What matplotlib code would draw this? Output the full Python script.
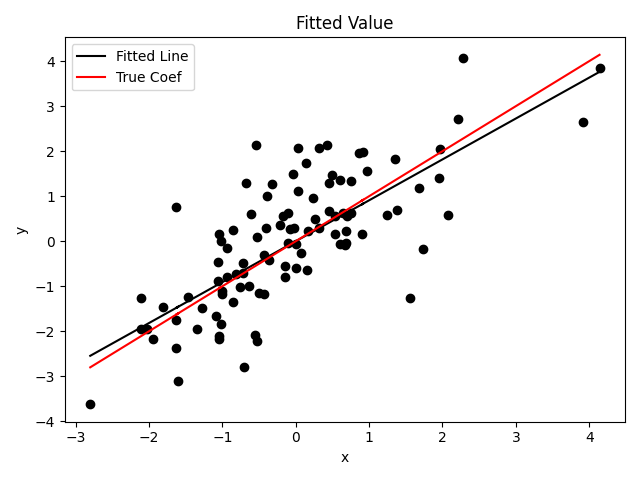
import numpy as np
import matplotlib
matplotlib.use('Agg')
import matplotlib.pyplot as plt

x = [-2.80, -2.11, -2.11, -2.02, -1.95, -1.81, -1.63, -1.63, -1.60, -1.63,
     -1.47, -1.34, -1.28, -1.08, -1.06, -1.06, -1.04, -1.02, -1.04, -1.04,
     -1.02, -1.00, -1.00, -0.93, -0.93, -0.86, -0.85, -0.82, -0.76, -0.72,
     -0.72, -0.71, -0.68, -0.63, -0.61, -0.56, -0.54, -0.53, -0.53, -0.50,
     -0.43, -0.43, -0.40, -0.39, -0.36, -0.32, -0.21, -0.18, -0.15, -0.15,
     -0.11, -0.11, -0.08, -0.04, -0.03, 0.00, 0.01, 0.03, 0.03, 0.07,
     0.14, 0.15, 0.17, 0.24, 0.26, 0.32, 0.32, 0.42, 0.45, 0.46,
     0.49, 0.53, 0.54, 0.60, 0.61, 0.64, 0.67, 0.68, 0.68, 0.70,
     0.76, 0.76, 0.86, 0.92, 0.90, 0.97, 1.24, 1.35, 1.38, 1.56,
     1.68, 1.74, 1.95, 1.97, 2.07, 2.21, 2.28, 3.92, 4.14]
y = [-3.62, -1.26, -1.95, -1.95, -2.17, -1.46, -1.75, -2.37, -3.11, 0.75,
     -1.24, -1.95, -1.48, -1.66, -0.46, -0.88, 0.17, 0.01, -2.17, -2.10,
     -1.84, -1.17, -1.10, -0.14, -0.79, -1.35, 0.26, -0.72, -1.01, -0.48,
     -0.70, -2.80, 1.30, -0.99, 0.61, -2.08, 2.13, -2.22, 0.10, -1.15,
     -1.17, -0.30, 0.30, 1.01, -0.41, 1.28, 0.37, 0.57, -0.55, -0.79,
     -0.03, 0.63, 0.28, 1.50, 0.30, -0.06, -0.59, 2.06, 1.12, -0.26,
     1.73, -0.63, 0.23, 0.97, 0.50, 2.08, 0.30, 2.13, 0.68, 1.30,
     1.48, 0.17, 0.57, 1.35, -0.06, 0.63, -0.08, 0.23, -0.03, 0.55,
     1.33, 0.63, 1.95, 1.99, 0.17, 1.55, 0.59, 1.82, 0.70, -1.26,
     1.19, -0.17, 1.41, 2.04, 0.59, 2.71, 4.06, 2.64, 3.84]
true_coef = 1.0

xa = np.array(x)
ya = np.array(y)
coef = np.sum(xa * ya) / np.sum(xa * xa)  # fit without intercept

fig, ax = plt.subplots(figsize=(6.4, 4.8), dpi=100)
ax.scatter(xa, ya, color='black')
ax.plot(xa, coef * xa, color='black', label='Fitted Line')
ax.plot(xa, true_coef * xa, color='red', label='True Coef')
ax.set_title('Fitted Value')
ax.set_xlabel('x')
ax.set_ylabel('y')
ax.legend(loc='upper left')
plt.tight_layout()
plt.savefig('out.png')
